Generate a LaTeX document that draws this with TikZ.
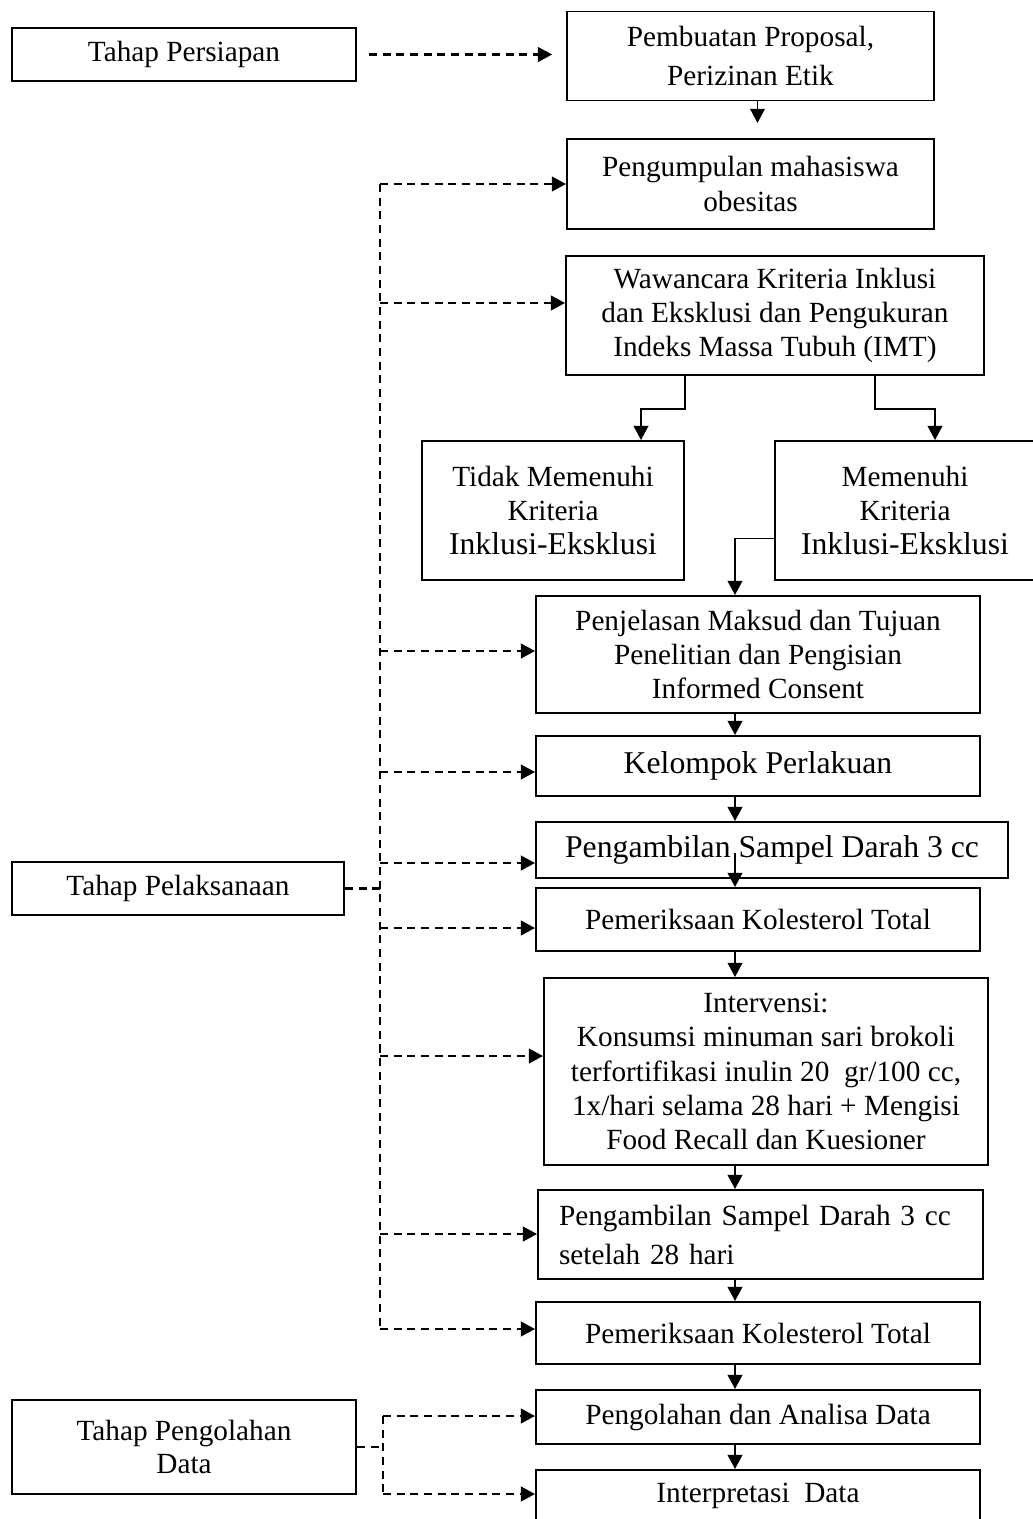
\documentclass[tikz,border=0pt]{standalone}
\usepackage{fontspec}
\setmainfont{Liberation Serif}
\usetikzlibrary{arrows.meta,calc}
\tikzset{
  sz/.style 2 args={minimum width=#1*0.41pt,minimum height=#2*0.41pt},
  box/.style={draw,line width=0.8pt,inner sep=0pt,align=center,font=\fontsize{12}{14}\selectfont},
  bigbox/.style={box,font=\fontsize{13}{15}\selectfont},
  arr/.style={-{Triangle[length=5.8pt,width=6pt]},line width=0.8pt},
  dashline/.style={line width=0.9pt,dash pattern=on 3.3pt off 2.3pt},
  dasharr/.style={dashline,-{Triangle[length=5.8pt,width=6pt]}}
}
\begin{document}
\begin{tikzpicture}[x=0.41pt,y=-0.41pt]
  \useasboundingbox (0,0) rectangle (1033,1519);
  \clip (0,0) rectangle (1033,1519);
  \node[box,sz={344}{53}] (persiapan) at (184,54.5) {Tahap Persiapan};
  \node[box,sz={367}{89},font=\fontsize{12}{15.6}\selectfont] (proposal) at (750.5,56) {Pembuatan Proposal,\\Perizinan Etik};
  \node[box,sz={367}{90}] (kumpul) at (750.5,184) {Pengumpulan mahasiswa\\obesitas};
  \node[box,sz={418}{119}] (wawancara) at (775,315.5) {Wawancara Kriteria Inklusi\\dan Eksklusi dan Pengukuran\\Indeks Massa Tubuh (IMT)};
  \node[box,sz={262}{139}] (tidak) at (553,510.5) {Tidak Memenuhi\\Kriteria\\\fontsize{13}{15}\selectfont Inklusi-Eksklusi};
  \node[box,sz={260}{139}] (memenuhi) at (905,510.5) {Memenuhi\\Kriteria\\\fontsize{13}{15}\selectfont Inklusi-Eksklusi};
  \node[box,sz={444}{117}] (jelas) at (758,654.5) {Penjelasan Maksud dan Tujuan\\Penelitian dan Pengisian\\Informed Consent};
  \node[bigbox,sz={444}{60}] (kelompok) at (758,766) {Kelompok Perlakuan};
  \node[bigbox,sz={472}{56}] (ambil1) at (772,850) {Pengambilan Sampel Darah 3 cc};
  \node[box,sz={444}{63}] (periksa1) at (758,919.5) {Pemeriksaan Kolesterol Total};
  \node[box,sz={444}{187}] (intervensi) at (766,1071.5) {Intervensi:\\Konsumsi minuman sari brokoli\\terfortifikasi inulin 20~~gr/100 cc,\\1x/hari selama 28 hari + Mengisi\\Food Recall dan Kuesioner};
  \node[box,sz={445}{89},align=left,text width=403*0.41pt,font=\fontsize{12}{16}\selectfont] (ambil2) at (760.5,1234.5) {Pengambilan Sampel Darah 3 cc\\setelah 28 hari};
  \node[box,sz={444}{62}] (periksa2) at (758,1333) {Pemeriksaan Kolesterol Total};
  \node[box,sz={444}{54}] (olah) at (758,1417) {Pengolahan dan Analisa Data};
  \node[box,sz={444}{52}] (interpretasi) at (758,1496) {Interpretasi~~Data};
  \node[box,sz={332}{53}] (pelaksanaan) at (178,888.5) {Tahap Pelaksanaan};
  \node[box,sz={344}{94},font=\fontsize{12}{13.2}\selectfont] (pengolahan) at (184,1447) {Tahap Pengolahan\\Data};

  \coordinate (axis) at (735,0);
  \draw[arr,shorten >=6.2pt] ($(proposal.south)+(7,0)$) -- ($(kumpul.north)+(7,0)$);
  \draw[arr] ($(wawancara.south)+(-90,0)$) -- ++(0,33) -| ($(tidak.north)+(88,0)$);
  \draw[arr] ($(wawancara.south)+(100,0)$) -- ++(0,33) -| ($(memenuhi.north)+(30,0)$);
  \draw[arr] ($(memenuhi.west)+(0,28)$) -| (jelas.north -| axis);
  \foreach \a/\b in {jelas/kelompok,kelompok/ambil1,periksa1/intervensi,intervensi/ambil2,ambil2/periksa2,periksa2/olah,olah/interpretasi}
    \draw[arr] (\a.south -| axis) -- (\b.north -| axis);
  \draw[arr] ($(ambil1.south -| axis)+(0,-26)$) -- (periksa1.north -| axis);

  \draw[dasharr,shorten <=4.9pt,shorten >=5.7pt] (persiapan) -- (proposal.west |- persiapan);
  \coordinate (top) at (380,184);
  \coordinate (bot) at (380,1329);
  \draw[dashline] (top) -- (bot);
  \foreach \t/\yy in {kumpul/184,wawancara/303,jelas/651,kelompok/772,ambil1/863,periksa1/928,intervensi/1056,ambil2/1234,periksa2/1329}{
    \coordinate (sp) at (380,\yy);
    \draw[dasharr] (sp) -- (sp -| \t.west);
  }
  \draw[dashline] (pelaksanaan.east) -- (pelaksanaan.east -| top);
  \coordinate (top2) at (383,1416);
  \coordinate (bot2) at (383,1494);
  \draw[dashline] (top2) -- (bot2);
  \draw[dasharr] (top2) -- (top2 -| olah.west);
  \draw[dasharr] (bot2) -- (bot2 -| interpretasi.west);
  \draw[dashline] (pengolahan.east) -- (pengolahan.east -| top2);
\end{tikzpicture}
\end{document}
